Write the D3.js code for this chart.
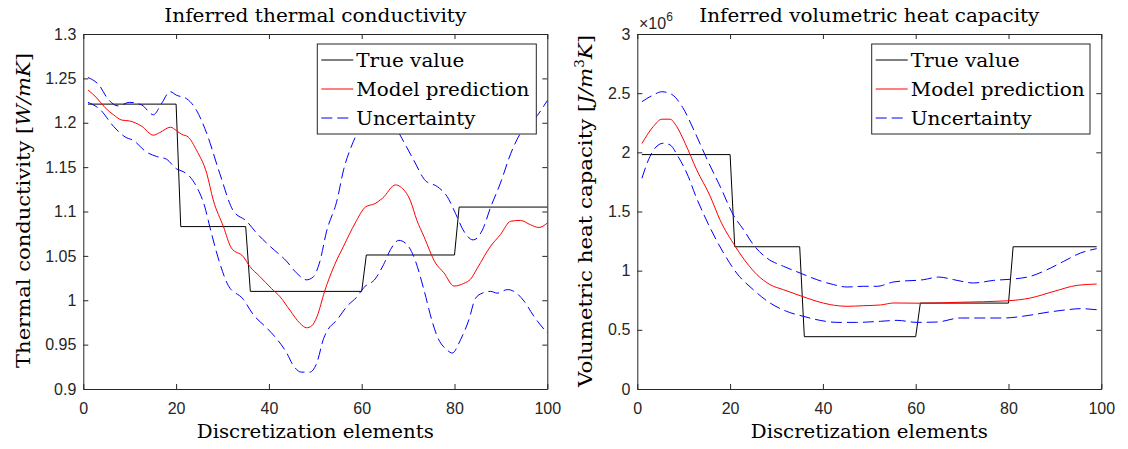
<!DOCTYPE html>
<html>
<head>
<meta charset="utf-8">
<script src="https://cdn.jsdelivr.net/npm/d3@7"></script>
<style>
  html, body { margin: 0; padding: 0; background: #fff; }
  svg { display: block; }
</style>
</head>
<body>
<svg id="chart" width="1128" height="449"></svg>
<script>
// ---------------- DATA ----------------
const xTicks = [0, 20, 40, 60, 80, 100];
const xTickLabels = ["0", "20", "40", "60", "80", "100"];

// Left panel: thermal conductivity
const kTicks = [0.9, 0.95, 1.0, 1.05, 1.1, 1.15, 1.2, 1.25, 1.3];
const kTickLabels = ["0.9", "0.95", "1", "1.05", "1.1", "1.15", "1.2", "1.25", "1.3"];
const kTrueStart = [1, 21, 36, 61, 81];
const kTrueEnd = [20, 35, 60, 80, 100];
const kTrueVal = [1.221, 1.083, 1.010, 1.051, 1.105];

const kPredX = [1, 2.9, 4.7, 6.5, 8.3, 10, 12.6, 15.1, 16.5, 18.8, 20.1, 21.2, 22.6, 24.4, 26.6, 28, 30.2, 31.9, 34.5, 35.9, 38, 40.6, 42.4, 44.5, 46.7, 48.1, 49.2, 50.4, 52, 54, 56.1, 58.6, 60.8, 62.9, 64.5, 67.3, 68.3, 70.5, 71.9, 73.4, 75.9, 77.7, 79.9, 82, 83.5, 84.9, 87.8, 89.9, 92.1, 94.2, 96.4, 98.2, 100];
const kPredY = [1.237, 1.228, 1.217, 1.209, 1.203, 1.202, 1.196, 1.186, 1.189, 1.195, 1.191, 1.187, 1.184, 1.169, 1.143, 1.113, 1.083, 1.059, 1.049, 1.038, 1.027, 1.013, 1.004, 0.989, 0.974, 0.969, 0.971, 0.982, 1.010, 1.038, 1.061, 1.087, 1.105, 1.109, 1.115, 1.130, 1.128, 1.112, 1.090, 1.072, 1.042, 1.031, 1.016, 1.019, 1.024, 1.036, 1.061, 1.074, 1.089, 1.090, 1.085, 1.082, 1.087];

const kUpX = [1, 3.6, 5, 7.5, 10, 12.6, 15.1, 16.9, 18.7, 20.1, 22.3, 24.4, 26.6, 29.4, 32.3, 35.2, 37.3, 40.2, 43.8, 45.9, 48.1, 49.5, 51, 52.4, 54.7, 56.1, 57.9, 59.4, 61, 63, 65, 67, 68.7, 71.2, 73.7, 76.3, 78.4, 80.2, 82, 84, 86, 87.8, 89.9, 92.1, 94.2, 97.1, 100];
const kUpY = [1.251, 1.241, 1.229, 1.219, 1.223, 1.220, 1.209, 1.222, 1.235, 1.231, 1.227, 1.214, 1.188, 1.143, 1.101, 1.089, 1.076, 1.061, 1.044, 1.031, 1.023, 1.026, 1.044, 1.077, 1.113, 1.147, 1.175, 1.192, 1.205, 1.214, 1.212, 1.198, 1.182, 1.158, 1.135, 1.128, 1.117, 1.098, 1.078, 1.068, 1.079, 1.105, 1.132, 1.165, 1.188, 1.203, 1.225];

const kLoX = [1, 3.6, 6.5, 9, 10.8, 13.6, 15.8, 17.9, 20.1, 21.5, 23, 24.4, 26.2, 27.3, 29.4, 31.2, 34.5, 36.6, 39.5, 41.6, 43.8, 45.2, 47, 48.8, 50.3, 51.8, 52.5, 54.7, 56.8, 59, 60.4, 62.9, 64.7, 66.2, 68, 69.8, 71.6, 73.4, 75.2, 76.3, 78.4, 79.5, 81.3, 83.1, 84.5, 86, 87.8, 89.2, 91.4, 92.8, 95, 97.1, 100];
const kLoY = [1.223, 1.215, 1.196, 1.184, 1.180, 1.167, 1.162, 1.159, 1.148, 1.145, 1.139, 1.128, 1.105, 1.082, 1.042, 1.017, 1.001, 0.984, 0.969, 0.957, 0.941, 0.927, 0.919, 0.919, 0.929, 0.957, 0.965, 0.978, 0.993, 1.004, 1.014, 1.024, 1.040, 1.057, 1.0675, 1.0625, 1.044, 1.012, 0.976, 0.959, 0.944, 0.9405, 0.9555, 0.978, 1.002, 1.008, 1.010, 1.008, 1.012, 1.010, 0.999, 0.982, 0.963];

// Right panel: volumetric heat capacity (x 10^6)
const cTicks = [0, 0.5, 1, 1.5, 2, 2.5, 3];
const cTickLabels = ["0", "0.5", "1", "1.5", "2", "2.5", "3"];
const cTrueStart = [1, 21, 36, 61, 81];
const cTrueEnd = [20, 35, 60, 80, 99];
const cTrueVal = [1.981, 1.202, 0.442, 0.726, 1.202];

const cPredX = [1, 3.45, 5.3, 7.05, 8.5, 10.3, 12.8, 15.7, 17.8, 21.1, 23.6, 25.8, 28.6, 31.5, 35.5, 38.7, 41.6, 45.2, 48.8, 52.4, 55.3, 61, 69.6, 79.7, 84.7, 89.8, 94.8, 99];
const cPredY = [2.075, 2.218, 2.280, 2.280, 2.218, 2.077, 1.852, 1.630, 1.431, 1.206, 1.065, 0.966, 0.882, 0.839, 0.783, 0.741, 0.713, 0.699, 0.704, 0.710, 0.727, 0.725, 0.733, 0.745, 0.769, 0.825, 0.876, 0.887];

const cUpX = [1, 3.45, 5.3, 7.4, 9.8, 12.4, 15.1, 18, 20.7, 22.9, 25, 27.9, 31.5, 35.1, 38.7, 42.3, 45.2, 48.8, 51.7, 55.3, 61.7, 65, 68.2, 72.5, 76.8, 81.2, 84.7, 88.3, 91.9, 95.5, 99];
const cUpY = [2.428, 2.485, 2.512, 2.490, 2.378, 2.170, 1.935, 1.700, 1.470, 1.346, 1.220, 1.107, 1.037, 0.980, 0.924, 0.882, 0.862, 0.868, 0.868, 0.905, 0.924, 0.946, 0.924, 0.896, 0.918, 0.930, 0.952, 1.008, 1.079, 1.149, 1.186];

const cLoX = [1, 2.4, 3.8, 5.6, 7.05, 8.8, 11, 12.6, 14.2, 15.7, 18.6, 21.4, 25, 28.6, 32.2, 35.8, 39.4, 43, 47.3, 52.4, 56, 60.3, 64.6, 69.6, 73.9, 78.9, 84, 88.3, 92.7, 95.5, 99];
const cLoY = [1.781, 1.936, 2.035, 2.077, 2.063, 1.964, 1.795, 1.630, 1.486, 1.361, 1.149, 0.980, 0.839, 0.727, 0.656, 0.614, 0.580, 0.563, 0.563, 0.572, 0.580, 0.563, 0.566, 0.600, 0.600, 0.600, 0.620, 0.648, 0.670, 0.679, 0.670];

const legendLabels = ["True value", "Model prediction", "Uncertainty"];

// ---------------- DRAWING ----------------
const svg = d3.select("#chart");
const AX = "#262626";
const serif = "'DejaVu Serif', serif";
const sans = "'Liberation Sans', Arial, sans-serif";

function zip(xs, ys) { return xs.map((x, i) => [x, ys[i]]); }
function stepPoints(starts, ends, vals) {
  const pts = [];
  starts.forEach((s, i) => { pts.push([s, vals[i]]); pts.push([ends[i], vals[i]]); });
  return pts;
}

function panel(cfg) {
  const x = d3.scaleLinear().domain([0, 100]).range([cfg.left, cfg.left + 464]);
  const y = d3.scaleLinear().domain(cfg.yDomain).range([389, 34]);
  const g = svg.append("g");

  const bottom = d3.axisBottom(x).tickValues(xTicks).tickFormat((d, i) => xTickLabels[i]).tickSizeInner(-5).tickSizeOuter(0).tickPadding(14);
  const top = d3.axisTop(x).tickValues(xTicks).tickFormat("").tickSizeInner(-5).tickSizeOuter(0);
  const left = d3.axisLeft(y).tickValues(cfg.yTicks).tickFormat((d, i) => cfg.yTickLabels[i]).tickSizeInner(-5).tickSizeOuter(0).tickPadding(7);
  const right = d3.axisRight(y).tickValues(cfg.yTicks).tickFormat("").tickSizeInner(-5).tickSizeOuter(0);

  const styleAxis = sel => {
    sel.selectAll("path, line").attr("stroke", AX).attr("stroke-width", 1);
    sel.selectAll("text").attr("fill", AX).style("font-family", sans).style("font-size", "16px");
  };
  g.append("g").attr("transform", `translate(0,389)`).call(bottom).call(styleAxis);
  g.append("g").attr("transform", `translate(0,34)`).call(top).call(styleAxis);
  g.append("g").attr("transform", `translate(${cfg.left},0)`).call(left).call(styleAxis);
  g.append("g").attr("transform", `translate(${cfg.left + 464},0)`).call(right).call(styleAxis);

  const line = d3.line().x(d => x(d[0])).y(d => y(d[1]));
  const smooth = d3.line().x(d => x(d[0])).y(d => y(d[1])).curve(d3.curveMonotoneX);

  g.append("path").datum(stepPoints(cfg.trueStart, cfg.trueEnd, cfg.trueVal))
    .attr("d", line).attr("fill", "none").attr("stroke", "#000").attr("stroke-width", 1);
  g.append("path").datum(zip(cfg.upX, cfg.upY))
    .attr("d", smooth).attr("fill", "none").attr("stroke", "#0000ff").attr("stroke-width", 1).attr("stroke-dasharray", "11,5");
  g.append("path").datum(zip(cfg.loX, cfg.loY))
    .attr("d", smooth).attr("fill", "none").attr("stroke", "#0000ff").attr("stroke-width", 1).attr("stroke-dasharray", "11,5");
  g.append("path").datum(zip(cfg.predX, cfg.predY))
    .attr("d", smooth).attr("fill", "none").attr("stroke", "#ff0000").attr("stroke-width", 1);

  g.append("text").attr("x", cfg.left + 232).attr("y", 21.5).attr("text-anchor", "middle")
    .attr("textLength", cfg.titleLen).attr("lengthAdjust", "spacingAndGlyphs")
    .style("font-family", serif).style("font-size", "19px").attr("fill", "#000").text(cfg.title);
  g.append("text").attr("x", cfg.left + 232).attr("y", 438).attr("text-anchor", "middle")
    .attr("textLength", 237).attr("lengthAdjust", "spacingAndGlyphs")
    .style("font-family", serif).style("font-size", "19px").attr("fill", "#000").text("Discretization elements");
  const yl = g.append("text").attr("transform", `translate(${cfg.yLabelX},${cfg.yLabelCY}) rotate(-90)`)
    .attr("text-anchor", "middle").attr("textLength", cfg.yLabelLen).attr("lengthAdjust", "spacingAndGlyphs")
    .style("font-family", serif).style("font-size", "19px").attr("fill", "#000");
  cfg.yLabelParts.forEach(p => {
    const t = yl.append("tspan").text(p.t);
    if (p.it) t.style("font-style", "italic");
    if (p.sup) t.attr("dy", -8).style("font-size", "12px");
    if (p.after) t.attr("dy", 8);
  });

  const lg = g.append("g");
  lg.append("rect").attr("x", cfg.legX).attr("y", 44).attr("width", cfg.legW).attr("height", 90)
    .attr("fill", "#fff").attr("stroke", AX).attr("stroke-width", 1);
  const styles = [
    { c: "#000", dash: null },
    { c: "#ff0000", dash: null },
    { c: "#0000ff", dash: "11,5" }
  ];
  legendLabels.forEach((lab, i) => {
    const cy = 60 + i * 29;
    lg.append("line").attr("x1", cfg.legX + 4).attr("x2", cfg.legX + 36).attr("y1", cy).attr("y2", cy)
      .attr("stroke", styles[i].c).attr("stroke-width", 1).attr("stroke-dasharray", styles[i].dash);
    lg.append("text").attr("x", cfg.legX + 39).attr("y", cy + 6.5)
      .attr("textLength", cfg.legLens[i]).attr("lengthAdjust", "spacingAndGlyphs")
      .style("font-family", serif).style("font-size", "19px").attr("fill", "#000").text(lab);
  });
  return g;
}

panel({
  left: 83.3, yDomain: [0.9, 1.3], yTicks: kTicks, yTickLabels: kTickLabels,
  trueStart: kTrueStart, trueEnd: kTrueEnd, trueVal: kTrueVal,
  predX: kPredX, predY: kPredY, upX: kUpX, upY: kUpY, loX: kLoX, loY: kLoY,
  title: "Inferred thermal conductivity", titleLen: 302,
  yLabelX: 30, yLabelCY: 210.5, yLabelLen: 315,
  yLabelParts: [{ t: "Thermal conductivity [" }, { t: "W/mK", it: true }, { t: "]" }],
  legX: 317.3, legW: 219, legLens: [108, 173, 119]
});

const rp = panel({
  left: 637.3, yDomain: [0, 3], yTicks: cTicks, yTickLabels: cTickLabels,
  trueStart: cTrueStart, trueEnd: cTrueEnd, trueVal: cTrueVal,
  predX: cPredX, predY: cPredY, upX: cUpX, upY: cUpY, loX: cLoX, loY: cLoY,
  title: "Inferred volumetric heat capacity", titleLen: 340,
  yLabelX: 592, yLabelCY: 211, yLabelLen: 352,
  yLabelParts: [{ t: "Volumetric heat capacity [" }, { t: "J/m", it: true }, { t: "3", sup: true }, { t: "K", it: true, after: true }, { t: "]" }],
  legX: 871.7, legW: 218.3, legLens: [109, 174, 121]
});

const ex = rp.append("text").attr("x", 639).attr("y", 28.5).attr("fill", AX)
  .style("font-family", sans).style("font-size", "16px");
ex.append("tspan").text("\u00d710");
ex.append("tspan").attr("dy", -8).style("font-size", "12px").text("6");
</script>
</body>
</html>
